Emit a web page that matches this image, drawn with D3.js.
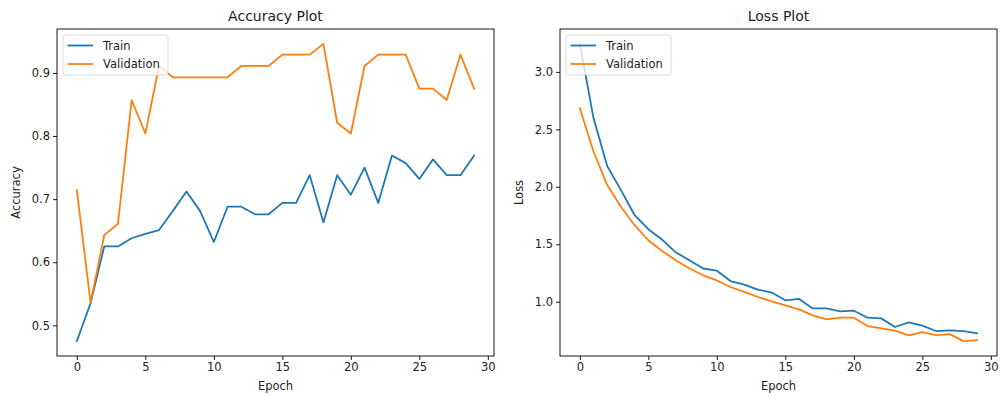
<!DOCTYPE html>
<html>
<head>
<meta charset="utf-8">
<script src="https://cdn.jsdelivr.net/npm/d3@7"></script>
<style>
  body { margin: 0; background: #fff; }
  svg { display: block; font-family: "DejaVu Sans", sans-serif; }
</style>
</head>
<body>
<svg width="1000" height="396"></svg>
<script>
// values
var epochs = d3.range(30);
var trainAcc = [0.475, 0.535, 0.625, 0.625, 0.638, 0.645, 0.651, 0.681, 0.712, 0.681,
                0.632, 0.688, 0.688, 0.676, 0.676, 0.694, 0.694, 0.738, 0.663, 0.738,
                0.707, 0.750, 0.694, 0.769, 0.757, 0.732, 0.763, 0.738, 0.738, 0.769];
var valAcc = [0.714, 0.536, 0.643, 0.661, 0.857, 0.804, 0.911, 0.893, 0.893, 0.893,
              0.893, 0.893, 0.911, 0.911, 0.911, 0.929, 0.929, 0.929, 0.946, 0.821,
              0.804, 0.911, 0.929, 0.929, 0.929, 0.875, 0.875, 0.857, 0.929, 0.875];
var trainLoss = [3.244, 2.596, 2.180, 1.971, 1.753, 1.631, 1.541, 1.430, 1.361, 1.289,
                 1.270, 1.180, 1.149, 1.106, 1.080, 1.012, 1.024, 0.942, 0.942, 0.916,
                 0.922, 0.861, 0.855, 0.780, 0.821, 0.792, 0.745, 0.751, 0.745, 0.725];
var valLoss = [2.683, 2.305, 2.015, 1.826, 1.666, 1.535, 1.442, 1.361, 1.289, 1.230,
               1.185, 1.128, 1.085, 1.041, 1.003, 0.969, 0.934, 0.881, 0.846, 0.861,
               0.861, 0.788, 0.768, 0.748, 0.707, 0.736, 0.710, 0.718, 0.657, 0.666];
var xTicks = [0, 5, 10, 15, 20, 25, 30];
var accTicks = [0.5, 0.6, 0.7, 0.8, 0.9];
var lossTicks = [1.0, 1.5, 2.0, 2.5, 3.0];
var seriesNames = ["Train", "Validation"];
var colors = ["#1f77b4", "#ff7f0e"];

var svg = d3.select("svg");

// matplotlib style 5% margins
function padded(ext) {
  var m = (ext[1] - ext[0]) * 0.05;
  return [ext[0] - m, ext[1] + m];
}

function panel(opts) {
  var x0 = opts.left, x1 = opts.left + 437, y0 = 29, y1 = 356;
  var g = svg.append("g");

  var x = d3.scaleLinear().domain(padded(d3.extent(epochs))).range([x0, x1]);
  var all = opts.series[0].concat(opts.series[1]);
  var y = d3.scaleLinear().domain(padded(d3.extent(all))).range([y1, y0]);

  var line = d3.line()
      .x(function(d, i) { return x(epochs[i]); })
      .y(function(d) { return y(d); });

  g.selectAll("path.series")
    .data(opts.series)
    .enter().append("path")
      .attr("class", "series")
      .attr("fill", "none")
      .attr("stroke", function(d, i) { return colors[i]; })
      .attr("stroke-width", 1.8)
      .attr("stroke-linejoin", "round")
      .attr("stroke-linecap", "square")
      .attr("d", line);

  // axes
  var xAxis = g.append("g")
      .attr("transform", "translate(0," + y1 + ")")
      .call(d3.axisBottom(x).tickValues(xTicks).tickSize(4).tickPadding(3).tickFormat(d3.format("d")));
  var yAxis = g.append("g")
      .attr("transform", "translate(" + x0 + ",0)")
      .call(d3.axisLeft(y).tickValues(opts.ticks).tickSize(4).tickPadding(3).tickFormat(d3.format(".1f")));
  [xAxis, yAxis].forEach(function(a) {
    a.select(".domain").remove();
    a.selectAll("line").attr("stroke", "#000").attr("stroke-width", 0.9);
    a.selectAll("text").attr("fill", "#222").style("font-size", "11.5px").style("font-family", "DejaVu Sans");
  });

  // frame
  g.append("rect")
      .attr("x", x0).attr("y", y0)
      .attr("width", x1 - x0).attr("height", y1 - y0)
      .attr("fill", "none").attr("stroke", "#000").attr("stroke-width", 0.9);

  g.append("text")
      .attr("x", (x0 + x1) / 2).attr("y", 21)
      .attr("text-anchor", "middle")
      .style("font-size", "14px").attr("fill", "#222")
      .text(opts.title);

  g.append("text")
      .attr("x", (x0 + x1) / 2).attr("y", 390)
      .attr("text-anchor", "middle")
      .style("font-size", "11.5px").attr("fill", "#222")
      .text("Epoch");

  g.append("text")
      .attr("transform", "translate(" + (x0 - 37) + "," + ((y0 + y1) / 2) + ") rotate(-90)")
      .attr("text-anchor", "middle")
      .style("font-size", "11.5px").attr("fill", "#222")
      .text(opts.ylabel);

  // legend, upper left
  var lg = g.append("g").attr("transform", "translate(" + (x0 + 6) + "," + (y0 + 6) + ")");
  lg.append("rect")
      .attr("width", opts.legendWidth).attr("height", 40)
      .attr("rx", 3)
      .attr("fill", "#fff").attr("fill-opacity", 0.8)
      .attr("stroke", "#d6d6d6").attr("stroke-width", 0.9);
  var items = lg.selectAll("g.item")
    .data(seriesNames)
    .enter().append("g")
      .attr("class", "item")
      .attr("transform", function(d, i) { return "translate(0," + (10.5 + i * 18.5) + ")"; });
  items.append("line")
      .attr("x1", 4.5).attr("x2", 30)
      .attr("stroke", function(d, i) { return colors[i]; })
      .attr("stroke-width", 1.8);
  items.append("text")
      .attr("x", 40).attr("dy", "0.35em")
      .style("font-size", "11.5px").attr("fill", "#222")
      .text(function(d) { return d; });
}

panel({ left: 57, series: [trainAcc, valAcc], ticks: accTicks, title: "Accuracy Plot", ylabel: "Accuracy", legendWidth: 105 });
panel({ left: 560, series: [trainLoss, valLoss], ticks: lossTicks, title: "Loss Plot", ylabel: "Loss", legendWidth: 105 });
</script>
</body>
</html>
